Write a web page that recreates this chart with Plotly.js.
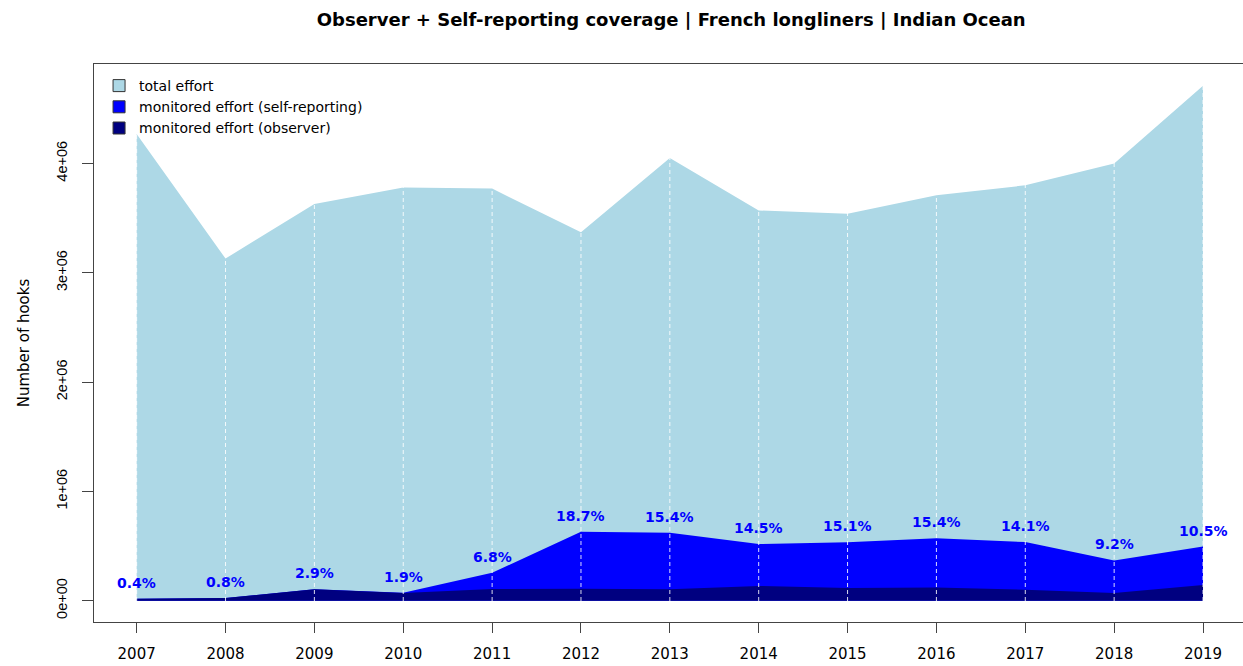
<!DOCTYPE html>
<html>
<head>
<meta charset="utf-8">
<script src="https://cdn.plot.ly/plotly-3.0.1.min.js"></script>
<style>html,body{margin:0;padding:0;background:#fff;}#chart{width:1243px;height:666px;}</style>
</head>
<body>
<div id="chart"></div>
<script>
// ---- data ----
const years = [2007, 2008, 2009, 2010, 2011, 2012, 2013, 2014, 2015, 2016, 2017, 2018, 2019];
const totalEffort = [4.27e6, 3.13e6, 3.63e6, 3.78e6, 3.77e6, 3.37e6, 4.05e6, 3.57e6, 3.54e6, 3.71e6, 3.80e6, 4.00e6, 4.71e6];
const selfReportingEffort = [0, 0, 0, 0.002e6, 0.149e6, 0.52e6, 0.517e6, 0.383e6, 0.42e6, 0.451e6, 0.436e6, 0.298e6, 0.352e6];
const observerEffort = [0.017e6, 0.025e6, 0.105e6, 0.07e6, 0.107e6, 0.11e6, 0.105e6, 0.135e6, 0.115e6, 0.12e6, 0.10e6, 0.07e6, 0.143e6];
const coverageLabels = ["0.4%", "0.8%", "2.9%", "1.9%", "6.8%", "18.7%", "15.4%", "14.5%", "15.1%", "15.4%", "14.1%", "9.2%", "10.5%"];
const yTickVals = [0, 1e6, 2e6, 3e6, 4e6];
const yTickText = ["0e+00", "1e+06", "2e+06", "3e+06", "4e+06"];
const legendNames = ["total effort", "monitored effort (self-reporting)", "monitored effort (observer)"];

const monitoredEffort = years.map((_, i) => selfReportingEffort[i] + observerEffort[i]);

const C_TOTAL = '#ADD8E6', C_SELF = '#0000FF', C_OBS = '#000080';
const FONT = 'DejaVu Sans';

const traces = [
  {x: years, y: totalEffort, type: 'scatter', mode: 'lines', fill: 'tozeroy',
   fillcolor: C_TOTAL, line: {width: 0, color: C_TOTAL}, showlegend: false, hoverinfo: 'skip'},
  {x: years, y: monitoredEffort, type: 'scatter', mode: 'lines', fill: 'tozeroy',
   fillcolor: C_SELF, line: {width: 0, color: C_SELF}, showlegend: false, hoverinfo: 'skip'},
  {x: years, y: observerEffort, type: 'scatter', mode: 'lines', fill: 'tozeroy',
   fillcolor: C_OBS, line: {width: 0, color: C_OBS}, showlegend: false, hoverinfo: 'skip'}
];
const legendColors = [C_TOTAL, C_SELF, C_OBS];
legendNames.forEach((n, i) => traces.push({
  x: [null], y: [null], type: 'scatter', mode: 'markers', name: n,
  marker: {symbol: 'square', size: 12, color: legendColors[i], line: {width: 1, color: '#333'}}
}));

const annotations = years.map((yr, i) => ({
  x: yr, y: monitoredEffort[i], xref: 'x', yref: 'y', text: coverageLabels[i],
  showarrow: false, yshift: 16, yanchor: 'middle', xanchor: 'center',
  font: {family: FONT, size: 14, color: '#0000FF', weight: 'bold'}
}));

// white dashed vertical lines at every year (full plot height, like abline(v=...))
const shapes = years.map(yr => ({
  type: 'line', xref: 'x', yref: 'paper', x0: yr, x1: yr, y0: 0, y1: 1, layer: 'above',
  line: {color: 'rgba(255,255,255,0.85)', width: 1, dash: '4px,3px'}
}));

const layout = {
  width: 1243, height: 666,
  margin: {l: 94, r: 0, t: 64, b: 44},
  paper_bgcolor: '#fff', plot_bgcolor: '#fff',
  title: {text: 'Observer + Self-reporting coverage | French longliners | Indian Ocean',
          font: {family: FONT, size: 18, color: '#000', weight: 'bold'},
          x: 0.54, xanchor: 'center', y: 1 - 20/666, yanchor: 'middle', yref: 'container'},
  xaxis: {range: [2006.52, 2019.45], tickmode: 'array', tickvals: years, ticktext: years.map(String),
          showline: true, linecolor: '#444', linewidth: 1, mirror: true,
          ticks: 'outside', ticklen: 10, tickcolor: '#444', ticklabelstandoff: 8,
          showgrid: false, zeroline: false,
          tickfont: {family: FONT, size: 15, color: '#000'}},
  yaxis: {range: [-0.195e6, 4.91e6], tickmode: 'array', tickvals: yTickVals, ticktext: yTickText,
          tickangle: -90, showline: true, linecolor: '#444', linewidth: 1,
          ticks: 'outside', ticklen: 11, tickcolor: '#444', ticklabelstandoff: 9,
          showgrid: false, zeroline: false,
          tickfont: {family: 'Liberation Sans', size: 14.5, color: '#000'},
          title: {text: 'Number of hooks', standoff: 20, font: {family: FONT, size: 15, color: '#000'}}},
  legend: {x: 0.0044, y: (622 - 70) / 558, xanchor: 'left', yanchor: 'top',
           bgcolor: 'rgba(0,0,0,0)', borderwidth: 0,
           font: {family: FONT, size: 14, color: '#000'}},
  annotations: annotations,
  shapes: shapes,
  showlegend: true
};

Plotly.newPlot('chart', traces, layout, {displayModeBar: false, staticPlot: true});
</script>
</body>
</html>
